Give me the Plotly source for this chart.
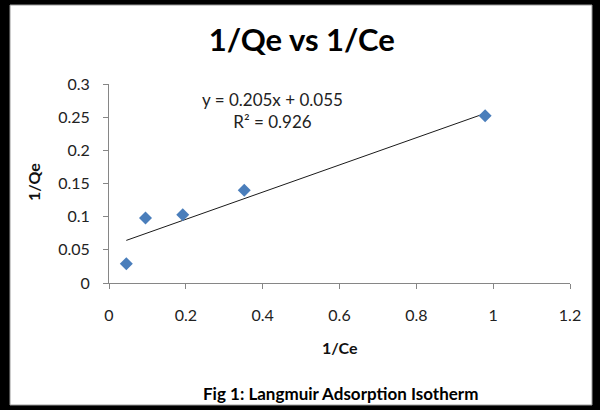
import plotly.graph_objects as go

# Data
inv_ce = [0.045, 0.095, 0.192, 0.352, 0.979]
inv_qe = [0.029, 0.098, 0.103, 0.140, 0.252]
slope = 0.205
intercept = 0.055
r2 = 0.926
x_ticks = [0, 0.2, 0.4, 0.6, 0.8, 1, 1.2]
y_ticks = [0, 0.05, 0.1, 0.15, 0.2, 0.25, 0.3]

W, H = 600, 410
L, R, T, B = 109, 570, 84, 283  # plot area in pixels


def px(xp):
    return (xp - L) / (R - L)


def py(yp):
    return (B - yp) / (B - T)


FONT = "Lato, 'Open Sans', sans-serif"

trend_x = [min(inv_ce), max(inv_ce)]
trend_y = [slope * v + intercept for v in trend_x]

fig = go.Figure()
fig.add_trace(go.Scatter(x=trend_x, y=trend_y, mode="lines",
                         line=dict(color="#1a1a1a", width=1), showlegend=False,
                         hoverinfo="skip"))
fig.add_trace(go.Scatter(x=inv_ce, y=inv_qe, mode="markers",
                         marker=dict(symbol="diamond", size=10, color="#4A7EBB",
                                     line=dict(width=0)),
                         showlegend=False))

axis_common = dict(showgrid=False, zeroline=False, showline=True,
                   linecolor="#868686", linewidth=1, ticks="outside",
                   ticklen=5, tickcolor="#868686",
                   tickfont=dict(family=FONT, size=16, color="#222"))

fig.update_xaxes(range=[0, 1.2], tickvals=x_ticks,
                 ticktext=[f"{v:g}" for v in x_ticks],
                 ticklabelstandoff=13, **axis_common)
fig.update_yaxes(range=[0, 0.3], tickvals=y_ticks,
                 ticktext=[f"{v:g}" for v in y_ticks],
                 ticklabelstandoff=10, **axis_common)

fig.update_layout(
    width=W, height=H,
    margin=dict(l=L, r=W - R, t=T, b=H - B),
    paper_bgcolor="black",
    plot_bgcolor="rgba(0,0,0,0)",
    title=dict(text="<b>1/Qe vs 1/Ce</b>", x=0.503, xanchor="center",
               y=1 - 40 / H, yanchor="middle", yref="container",
               font=dict(family=FONT, size=31, color="black")),
    shapes=[
        dict(type="rect", xref="paper", yref="paper", layer="below",
             x0=px(10), x1=px(592), y0=py(405), y1=py(5),
             fillcolor="white", line=dict(color="#9a9a9a", width=1)),
    ],
    annotations=[
        dict(text=f"y = {slope}x + {intercept}<br>R² = {r2}", xref="paper", yref="paper",
             x=px(272), y=py(110), xanchor="center", yanchor="middle",
             showarrow=False, align="center",
             font=dict(family=FONT, size=17, color="#222")),
        dict(text="<b>1/Ce</b>", xref="paper", yref="paper",
             x=px(340), y=py(347), xanchor="center", yanchor="middle",
             showarrow=False, font=dict(family=FONT, size=16, color="#111")),
        dict(text="<b>1/Qe</b>", xref="paper", yref="paper",
             x=px(33), y=py(182), xanchor="center", yanchor="middle",
             textangle=-90, showarrow=False,
             font=dict(family=FONT, size=16, color="#111")),
        dict(text="<b>Fig 1: Langmuir Adsorption Isotherm</b>", xref="paper", yref="paper",
             x=px(340), y=py(393), xanchor="center", yanchor="middle",
             showarrow=False, font=dict(family=FONT, size=17, color="black")),
    ],
)

fig.write_html("out.html")
